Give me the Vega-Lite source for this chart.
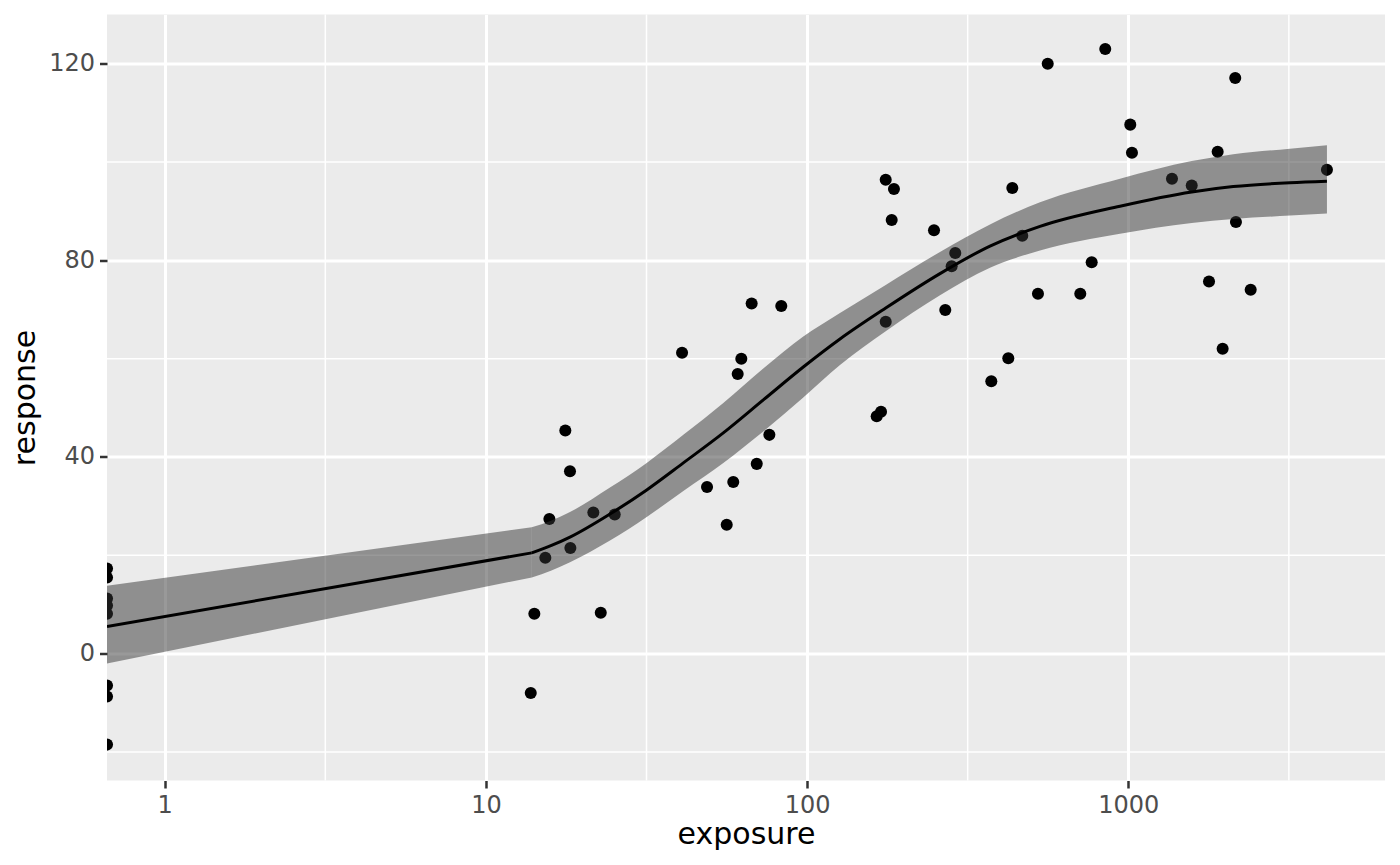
{
  "$schema": "https://vega.github.io/schema/vega-lite/v6.json",
  "autosize": "none",
  "width": 1278,
  "height": 766,
  "padding": {"left": 107, "top": 14.5, "right": 15, "bottom": 84.5},
  "background": "white",
  "config": {
    "view": {"fill": "#ebebeb", "stroke": null},
    "axis": {
      "labelFont": "DejaVu Sans",
      "labelFontSize": 24,
      "labelColor": "#4d4d4d",
      "titleFont": "DejaVu Sans",
      "titleFontSize": 30,
      "titleFontWeight": "normal",
      "titleColor": "black",
      "tickColor": "#333333",
      "tickSize": 7.5,
      "tickWidth": 2.5,
      "labelPadding": 5,
      "titlePadding": 8,
      "domain": false,
      "grid": true,
      "gridColor": "white",
      "gridWidth": 3,
      "labelFlush": false,
      "labelOverlap": false
    }
  },
  "datasets": {
    "obs": [
      {"exposure": 0.661, "response": 17.3},
      {"exposure": 0.661, "response": 15.5},
      {"exposure": 0.661, "response": 11.2},
      {"exposure": 0.661, "response": 9.8},
      {"exposure": 0.661, "response": 8.1},
      {"exposure": 0.661, "response": -6.5},
      {"exposure": 0.661, "response": -8.7},
      {"exposure": 0.661, "response": -18.5},
      {"exposure": 17.67, "response": 45.4},
      {"exposure": 18.27, "response": 37.1},
      {"exposure": 15.76, "response": 27.4},
      {"exposure": 21.6, "response": 28.7},
      {"exposure": 25.18, "response": 28.3},
      {"exposure": 15.31, "response": 19.5},
      {"exposure": 18.32, "response": 21.5},
      {"exposure": 14.15, "response": 8.1},
      {"exposure": 22.78, "response": 8.3},
      {"exposure": 13.79, "response": -8.0},
      {"exposure": 67.2, "response": 71.2},
      {"exposure": 83.1, "response": 70.7},
      {"exposure": 40.8, "response": 61.2},
      {"exposure": 62.4, "response": 60.0},
      {"exposure": 60.8, "response": 56.9},
      {"exposure": 76.3, "response": 44.5},
      {"exposure": 69.7, "response": 38.6},
      {"exposure": 58.9, "response": 34.9},
      {"exposure": 48.8, "response": 33.9},
      {"exposure": 56.2, "response": 26.2},
      {"exposure": 175.7, "response": 96.4},
      {"exposure": 186.4, "response": 94.5},
      {"exposure": 183.4, "response": 88.2},
      {"exposure": 248.4, "response": 86.1},
      {"exposure": 435.5, "response": 94.7},
      {"exposure": 289.3, "response": 81.5},
      {"exposure": 281.9, "response": 78.8},
      {"exposure": 467.7, "response": 85.0},
      {"exposure": 523.4, "response": 73.2},
      {"exposure": 269.3, "response": 69.9},
      {"exposure": 175.7, "response": 67.5},
      {"exposure": 423.1, "response": 60.1},
      {"exposure": 374.6, "response": 55.4},
      {"exposure": 164.7, "response": 48.3},
      {"exposure": 169.9, "response": 49.2},
      {"exposure": 847.9, "response": 123.0},
      {"exposure": 561.3, "response": 120.0},
      {"exposure": 2153, "response": 117.1},
      {"exposure": 1014.4, "response": 107.6},
      {"exposure": 1026.8, "response": 101.9},
      {"exposure": 1898, "response": 102.1},
      {"exposure": 1368, "response": 96.6},
      {"exposure": 1576, "response": 95.2},
      {"exposure": 4155, "response": 98.4},
      {"exposure": 2164, "response": 87.8},
      {"exposure": 769.3, "response": 79.6},
      {"exposure": 708.9, "response": 73.2},
      {"exposure": 1784, "response": 75.7},
      {"exposure": 2405, "response": 74.0},
      {"exposure": 1967, "response": 62.0}
    ],
    "fitLow": [
      {"exposure": 0.661, "fit": 5.5, "lower": -2.0, "upper": 13.8},
      {"exposure": 13.89, "fit": 20.5, "lower": 15.5, "upper": 25.7}
    ],
    "fitHigh": [
      {"exposure": 13.89, "fit": 20.5, "lower": 15.5, "upper": 25.7},
      {"exposure": 16.0, "fit": 22.0, "lower": 16.9, "upper": 27.1},
      {"exposure": 18.27, "fit": 23.7, "lower": 18.6, "upper": 28.8},
      {"exposure": 24.34, "fit": 28.4, "lower": 23.0, "upper": 33.8},
      {"exposure": 31.67, "fit": 33.3, "lower": 27.8, "upper": 38.8},
      {"exposure": 41.18, "fit": 38.8, "lower": 33.1, "upper": 44.5},
      {"exposure": 54.84, "fit": 44.9, "lower": 38.8, "upper": 51.0},
      {"exposure": 73.04, "fit": 51.6, "lower": 45.2, "upper": 58.0},
      {"exposure": 97.3, "fit": 58.3, "lower": 52.1, "upper": 64.5},
      {"exposure": 126.6, "fit": 64.0, "lower": 58.7, "upper": 69.3},
      {"exposure": 175.7, "fit": 70.3, "lower": 65.6, "upper": 75.0},
      {"exposure": 259.3, "fit": 77.3, "lower": 72.9, "upper": 81.7},
      {"exposure": 371.1, "fit": 82.9, "lower": 78.5, "upper": 87.3},
      {"exposure": 531.1, "fit": 86.9, "lower": 82.0, "upper": 91.8},
      {"exposure": 942.4, "fit": 91.0, "lower": 85.4, "upper": 96.6},
      {"exposure": 1576, "fit": 93.9, "lower": 87.6, "upper": 100.2},
      {"exposure": 2123, "fit": 95.0, "lower": 88.4, "upper": 101.6},
      {"exposure": 3187, "fit": 95.8, "lower": 89.1, "upper": 102.7},
      {"exposure": 4155, "fit": 96.1, "lower": 89.5, "upper": 103.4}
    ],
    "minorX": [{"v": 3.162}, {"v": 31.62}, {"v": 316.2}, {"v": 3162}],
    "minorY": [{"v": -20}, {"v": 20}, {"v": 60}, {"v": 100}]
  },
  "layer": [
    {
      "data": {"name": "minorX"},
      "mark": {"type": "rule", "color": "white", "strokeWidth": 1.5},
      "encoding": {
        "x": {"field": "v", "type": "quantitative", "scale": {"type": "log", "domain": [0.661, 6300], "nice": false}}
      }
    },
    {
      "data": {"name": "minorY"},
      "mark": {"type": "rule", "color": "white", "strokeWidth": 1.5},
      "encoding": {
        "y": {"field": "v", "type": "quantitative", "scale": {"domain": [-25.8, 130], "nice": false, "zero": false}}
      }
    },
    {
      "data": {"name": "obs"},
      "mark": {"type": "point", "filled": true, "color": "black", "opacity": 1, "size": 145, "clip": true},
      "encoding": {
        "x": {
          "field": "exposure", "type": "quantitative",
          "scale": {"type": "log", "domain": [0.661, 6300], "nice": false},
          "axis": {"values": [1, 10, 100, 1000], "format": ".0f", "title": "exposure", "titlePadding": 2}
        },
        "y": {
          "field": "response", "type": "quantitative",
          "scale": {"domain": [-25.8, 130], "nice": false, "zero": false},
          "axis": {"values": [0, 40, 80, 120], "title": "response"}
        }
      }
    },
    {
      "data": {"name": "fitLow"},
      "mark": {"type": "area", "color": "#333333", "opacity": 0.5, "clip": true},
      "encoding": {
        "x": {"field": "exposure", "type": "quantitative"},
        "y": {"field": "upper", "type": "quantitative"},
        "y2": {"field": "lower"}
      }
    },
    {
      "data": {"name": "fitHigh"},
      "mark": {"type": "area", "color": "#333333", "opacity": 0.5, "interpolate": "monotone", "clip": true},
      "encoding": {
        "x": {"field": "exposure", "type": "quantitative"},
        "y": {"field": "upper", "type": "quantitative"},
        "y2": {"field": "lower"}
      }
    },
    {
      "data": {"name": "fitLow"},
      "mark": {"type": "line", "color": "black", "strokeWidth": 3, "clip": true},
      "encoding": {
        "x": {"field": "exposure", "type": "quantitative"},
        "y": {"field": "fit", "type": "quantitative"}
      }
    },
    {
      "data": {"name": "fitHigh"},
      "mark": {"type": "line", "color": "black", "strokeWidth": 3, "interpolate": "monotone", "clip": true},
      "encoding": {
        "x": {"field": "exposure", "type": "quantitative"},
        "y": {"field": "fit", "type": "quantitative"}
      }
    }
  ]
}
